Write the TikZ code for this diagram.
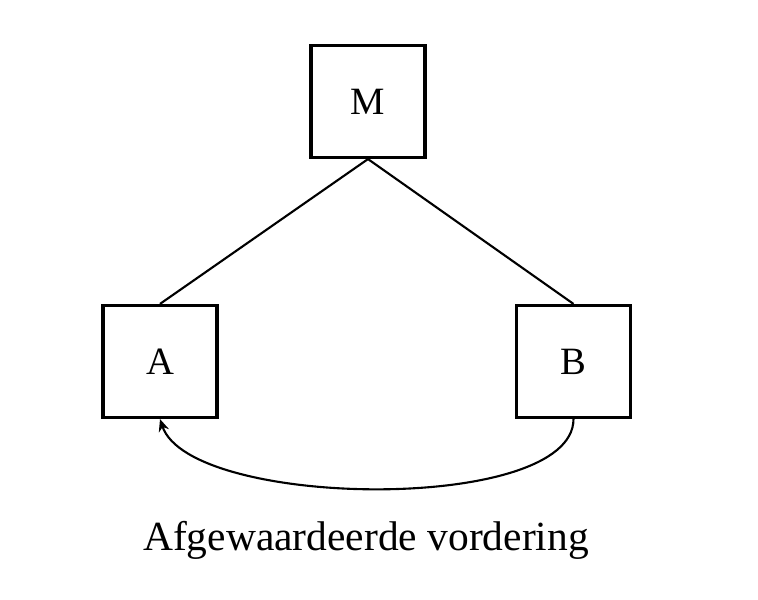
\documentclass[tikz,border=0pt]{standalone}
\usepackage{fontspec}
\setmainfont{Liberation Serif}
\usetikzlibrary{arrows.meta}

\begin{document}
\begin{tikzpicture}[
    party/.style={draw, line width=0.9pt, minimum width=1.14cm, minimum height=1.12cm, font=\fontsize{11}{13}\selectfont},
    link/.style={line width=0.6pt}
  ]
    \useasboundingbox (0,0) rectangle (7.58,6);
    % Draw the boxes
    \node[party] (M) at (3.68,4.985) {M};
    \node[party] (A) at (1.60,2.385) {A};
    \node[party] (B) at (5.735,2.385) {B};
    % Draw the links
    \draw[link] (M.south) -- (A.north);
    \draw[link] (M.south) -- (B.north);
    \draw[link, -{Stealth[length=3.5pt,width=3pt]}] (B.south) .. controls +(0,-0.95) and +(0.3,-0.9) .. (A.south);
    % Draw the label
    \node[font=\fontsize{11.8}{14}\selectfont] (lbl) at (3.66,0.6) {Afgewaardeerde vordering};
  \end{tikzpicture}
\end{document}
